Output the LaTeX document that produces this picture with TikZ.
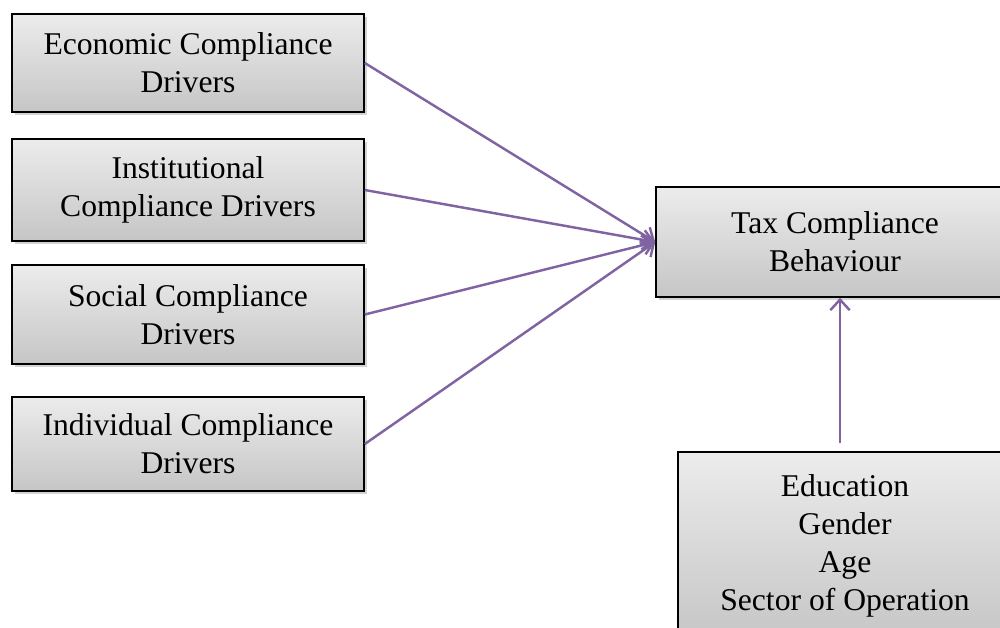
\documentclass[tikz,border=0pt]{standalone}
\usepackage{fontspec}
\setmainfont{Liberation Serif}
\usetikzlibrary{shadows,arrows.meta}

\definecolor{arrowpurple}{RGB}{128,100,162}

\tikzset{
	driver/.style={rectangle,draw,line width=0.9pt,top color=gray!15,bottom color=gray!45,
		drop shadow={opacity=0.35,shadow xshift=0.06cm,shadow yshift=-0.06cm},
		align=center,font=\fontsize{18}{21.5}\selectfont},
	link/.style={-{Straight Barb[length=6pt,width=11pt]},draw=arrowpurple,line width=1.4pt}
}

\begin{document}
\begin{tikzpicture}

	\useasboundingbox (0,0) rectangle (20,-12.56);

	\def\boxwidth{7.04cm}

	\node[driver,minimum width=\boxwidth,minimum height=1.96cm] (econ) at (3.76,-1.26) {Economic Compliance\\Drivers};
	\node[driver,minimum width=\boxwidth,minimum height=2.04cm] (inst) at (3.76,-3.8) {Institutional\\Compliance Drivers};
	\node[driver,minimum width=\boxwidth,minimum height=1.98cm] (soc) at (3.76,-6.29) {Social Compliance\\Drivers};
	\node[driver,minimum width=\boxwidth,minimum height=1.88cm] (indiv) at (3.76,-8.88) {Individual Compliance\\Drivers};

	\node[driver,minimum width=7.16cm,minimum height=2.2cm] (tax) at (16.7,-4.84) {Tax Compliance\\Behaviour};
	\node[driver,minimum width=6.68cm,minimum height=3.76cm,anchor=north] (demo) at (16.9,-9.02) {Education\\Gender\\Age\\Sector of Operation};

	\coordinate (up) at (16.8,-8.86);

	\draw[link] (econ.east) -- (tax.west);
	\draw[link] (inst.east) -- (tax.west);
	\draw[link] (soc.east) -- (tax.west);
	\draw[link] (indiv.east) -- (tax.west);

	\draw[link] (up) -- (up |- tax.south);

\end{tikzpicture}
\end{document}
